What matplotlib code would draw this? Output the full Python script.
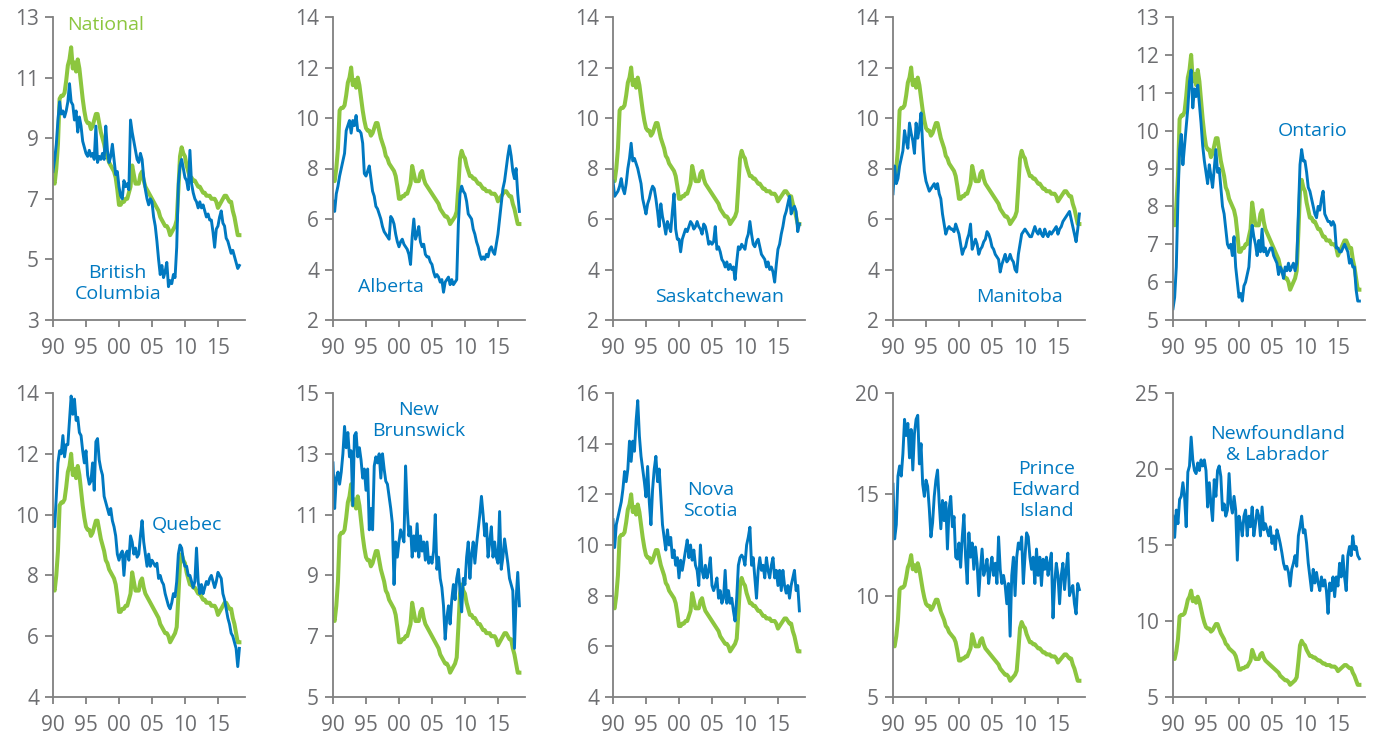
import numpy as np
import pandas as pd
import matplotlib
matplotlib.use('Agg')
import matplotlib.pyplot as plt

# Unemployment rate (%), quarterly readings 1990Q1 - 2018Q2
quarters = pd.period_range('1990Q1', '2018Q2', freq='Q')
years = quarters.year + (quarters.quarter - 1) / 4.0

national = [7.6, 7.5, 8.0, 8.8,
            10.3, 10.4, 10.4, 10.5,
            10.9, 11.4, 11.6, 12.0,
            11.3, 11.5, 11.2, 11.6,
            11.3, 10.8, 10.3, 9.9,
            9.6, 9.5, 9.5, 9.3,
            9.4, 9.6, 9.8, 9.8,
            9.5, 9.2, 9.0, 8.8,
            8.5, 8.4, 8.2, 8.1,
            8.0, 7.9, 7.7, 7.3,
            6.8, 6.8, 6.9, 6.9,
            7.0, 7.0, 7.2, 7.4,
            8.1, 7.8, 7.5, 7.5,
            7.5, 7.8, 7.9, 7.6,
            7.4, 7.3, 7.2, 7.1,
            7.0, 6.9, 6.8, 6.7,
            6.6, 6.4, 6.3, 6.2,
            6.1, 6.1, 6.0, 5.8,
            5.9, 6.0, 6.1, 6.3,
            7.3, 8.4, 8.7, 8.5,
            8.4, 8.1, 7.9, 7.7,
            7.7, 7.6, 7.6, 7.5,
            7.4, 7.4, 7.3, 7.2,
            7.2, 7.1, 7.1, 7.1,
            7.0, 7.0, 7.0, 6.9,
            6.7, 6.8, 6.9, 7.0,
            7.1, 7.1, 7.0, 6.9,
            6.9, 6.6, 6.4, 6.1,
            5.8, 5.8]

british_columbia = [7.9, 8.3, 8.8, 9.6,
                    10.2, 9.8, 9.9, 9.7,
                    9.9, 10.2, 10.8, 10.2,
                    10.1, 9.6, 9.9, 9.2,
                    9.7, 9.4, 8.9, 8.7,
                    8.5, 8.4, 8.6, 8.4,
                    8.5, 8.3, 9.4, 8.2,
                    8.4, 8.3, 8.5, 8.3,
                    9.4, 8.6, 8.2, 8.4,
                    8.8, 8.3, 7.8, 7.9,
                    7.4, 7.1, 7.0, 7.6,
                    7.4, 7.5, 7.3, 9.6,
                    9.2, 8.9, 8.6, 8.3,
                    8.2, 8.5, 8.3, 7.7,
                    7.3, 7.0, 6.8, 7.0,
                    6.9, 6.4, 6.1, 5.6,
                    5.0, 4.5, 4.8, 4.4,
                    4.6, 4.9, 4.1, 4.3,
                    4.2, 4.5, 4.4, 5.4,
                    7.5, 8.1, 8.3, 8.0,
                    7.7, 7.6, 7.3, 8.6,
                    7.5, 7.2, 7.0, 6.9,
                    6.7, 6.9, 6.7, 6.8,
                    6.6, 6.4, 6.5, 6.3,
                    6.3, 5.9, 5.4, 6.0,
                    6.1, 6.4, 6.6, 6.2,
                    6.1, 5.7, 5.6, 5.4,
                    5.2, 5.3, 5.1, 4.9,
                    4.7, 4.8]

alberta = [6.7, 6.3, 7.0, 7.3,
           7.7, 8.0, 8.3, 8.6,
           9.5, 9.7, 9.9, 9.4,
           9.9, 9.7, 10.1, 9.5,
           9.5, 9.4, 9.0, 7.8,
           7.7, 7.9, 8.1, 7.6,
           7.1, 6.9, 6.5, 6.4,
           6.2, 6.0, 5.7, 5.5,
           5.4, 5.3, 5.2, 6.1,
           6.0, 5.8, 5.4, 5.1,
           4.9, 5.1, 5.2, 5.0,
           4.9, 4.8, 4.6, 4.2,
           5.3, 6.0, 5.2, 5.4,
           5.7, 5.1, 4.9, 5.0,
           4.6, 4.5, 4.5, 4.3,
           4.2, 3.9, 3.7, 3.8,
           3.7, 3.5, 3.6, 3.1,
           3.5, 3.6, 3.7, 3.4,
           3.6, 3.4, 3.5, 3.6,
           5.8, 7.0, 7.3, 7.1,
           7.0, 6.7, 6.2, 6.1,
           6.0, 5.6, 5.4, 5.1,
           4.9, 4.6, 4.4, 4.5,
           4.4, 4.6, 4.5, 4.8,
           4.9, 4.7, 4.6, 5.0,
           5.4, 6.0, 6.6, 7.2,
           7.5, 8.0, 8.5, 8.9,
           8.5, 7.9, 7.6, 8.0,
           7.0, 6.3]

saskatchewan = [7.5, 6.9, 7.0, 7.1,
                7.3, 7.6, 7.2, 7.0,
                7.4, 8.0, 8.4, 9.0,
                8.3, 8.4, 8.2, 8.0,
                7.7, 7.4, 6.8, 6.5,
                6.2, 6.6, 6.8, 7.1,
                7.3, 7.2, 6.8, 6.3,
                5.7, 6.6, 6.1, 5.8,
                5.4, 5.9, 5.7, 5.5,
                6.3, 7.0, 5.6, 5.2,
                5.2, 4.7, 5.2, 5.4,
                5.6, 5.5, 5.7, 5.9,
                5.8, 5.6, 5.7, 5.9,
                5.7, 5.6, 5.4, 5.8,
                5.7, 5.4, 5.0, 5.1,
                5.0, 5.1, 5.7, 4.8,
                4.9, 4.7, 4.4, 4.3,
                4.1, 4.3, 4.0, 4.2,
                4.0, 4.1, 3.6, 4.3,
                4.9, 4.8, 5.0, 4.9,
                4.8, 5.2, 5.4, 5.9,
                5.4, 5.0, 4.9, 5.1,
                5.2, 4.9, 4.6, 4.5,
                4.4, 4.1, 4.3, 4.0,
                4.1, 3.9, 3.5, 4.2,
                4.8, 5.0, 5.4, 5.7,
                6.1, 6.3, 6.6, 6.9,
                6.2, 6.4, 6.5, 6.3,
                5.5, 5.8]

manitoba = [7.0, 8.1, 7.4, 7.6,
            8.1, 8.4, 8.7, 9.5,
            9.1, 8.8, 9.8, 9.4,
            9.1, 8.6, 9.8, 9.2,
            9.6, 10.2, 8.9, 7.9,
            7.5, 7.3, 7.1, 7.2,
            7.3, 7.4, 7.2, 7.4,
            7.0, 6.8, 6.2, 5.8,
            5.4, 5.6, 5.7, 5.6,
            5.6, 5.5, 5.8, 5.6,
            5.4, 5.0, 4.6, 4.8,
            4.9, 5.2, 5.4, 5.8,
            4.8, 5.0, 5.2, 5.0,
            4.6, 4.8, 4.9, 5.1,
            5.2, 5.5, 5.4, 5.2,
            4.9, 4.8, 4.6, 4.5,
            4.4, 3.9, 4.2, 4.4,
            4.6, 4.3, 4.4, 4.6,
            4.4, 4.3, 4.0, 3.9,
            4.6, 5.0, 5.4, 5.5,
            5.6, 5.5, 5.4, 5.3,
            5.3, 5.5, 5.7, 5.5,
            5.4, 5.6, 5.4, 5.3,
            5.6, 5.4, 5.3, 5.5,
            5.4, 5.5, 5.6, 5.7,
            5.4, 5.6, 5.7, 5.9,
            6.0, 6.1, 6.2, 6.3,
            6.0, 5.7, 5.4, 5.1,
            5.6, 6.2]

ontario = [5.3, 5.6, 6.4, 8.2,
           9.5, 9.9, 9.1, 9.6,
           10.1, 10.6, 11.3, 11.6,
           10.6, 11.1, 10.9, 11.2,
           10.7, 10.2, 9.6, 9.2,
           8.9, 8.6, 9.1, 8.8,
           8.5, 9.0, 9.5, 8.9,
           9.0, 8.5, 8.0, 7.8,
           7.4, 7.0, 6.9, 7.0,
           6.7, 7.2, 6.4, 6.0,
           5.6, 5.7, 5.5, 5.9,
           6.0, 6.2, 6.4, 7.1,
           7.5, 7.2, 7.0, 6.7,
           7.1, 6.8, 7.4, 6.8,
           6.9, 6.7, 6.8, 6.9,
           6.9, 6.7, 6.6, 6.5,
           6.2, 6.4, 6.3, 6.1,
           6.4, 6.3, 6.5, 6.3,
           6.4, 6.5, 6.3, 6.5,
           7.8, 9.1, 9.5, 9.2,
           9.2, 8.9, 8.5, 8.4,
           8.2, 8.0, 7.8, 7.7,
           8.0, 7.9, 8.2, 8.4,
           7.8, 7.7, 7.6, 7.6,
           7.5, 7.6, 7.5, 6.9,
           6.9, 6.8, 6.8, 6.9,
           7.0, 6.9, 6.8, 6.5,
           6.6, 6.4, 6.4, 5.8,
           5.5, 5.5]

quebec = [10.0, 9.6, 10.6, 11.7,
          12.1, 12.0, 12.6, 11.9,
          12.3, 12.3, 13.1, 13.9,
          13.3, 13.8, 13.1, 13.2,
          12.7, 12.6, 12.1, 11.7,
          12.1, 11.3, 11.0, 11.1,
          11.7, 10.8, 12.4, 12.5,
          11.8, 11.5, 11.3, 10.6,
          10.4, 10.2, 10.0, 10.2,
          9.8, 9.6, 9.3, 8.7,
          8.5, 8.7, 8.8, 8.0,
          8.7, 8.8, 8.5, 9.3,
          9.1, 8.7, 8.9, 8.6,
          8.7, 9.3, 9.8, 9.1,
          8.7, 8.3, 8.7, 8.3,
          8.5, 8.4, 8.3, 8.4,
          7.9, 8.0, 7.8, 7.7,
          7.4, 7.2, 7.0, 6.9,
          7.1, 7.4, 7.3, 7.8,
          8.7, 9.0, 8.9, 8.5,
          8.3, 8.3, 8.0, 8.0,
          7.8, 7.6, 7.8, 8.9,
          7.8, 7.4, 7.7, 7.4,
          7.6, 7.8, 7.7, 7.9,
          8.0, 7.8, 7.6, 7.8,
          8.1, 8.0, 7.9, 7.4,
          7.2, 6.9, 6.6, 6.4,
          6.1, 6.0, 5.8, 5.6,
          5.0, 5.6]

new_brunswick = [12.7, 11.2, 12.2, 12.4,
                 12.0, 12.4, 13.0, 13.9,
                 13.2, 13.7, 12.9, 13.1,
                 11.3, 13.6, 13.7, 12.9,
                 13.2, 12.8, 12.2, 12.5,
                 11.8, 12.5, 10.5, 11.2,
                 10.5, 12.6, 12.9, 12.7,
                 13.0, 12.2, 13.0, 12.5,
                 12.1, 12.0, 11.6, 11.2,
                 10.7, 8.7, 10.1, 9.6,
                 10.1, 10.5, 10.3, 10.1,
                 12.6, 11.2, 10.3, 10.6,
                 9.6, 10.3, 9.8, 10.7,
                 9.6, 10.3, 9.8, 10.1,
                 9.5, 10.1, 9.4, 9.6,
                 9.4, 9.8, 11.0, 9.2,
                 9.6, 8.9, 8.6, 8.0,
                 6.9, 7.6, 8.0, 7.4,
                 8.2, 8.7, 8.2, 8.9,
                 9.2, 8.5, 7.8, 8.9,
                 8.7, 9.6, 10.1, 8.9,
                 9.7, 10.1, 9.4, 10.0,
                 10.5, 11.0, 11.6, 11.0,
                 10.3, 10.7, 9.6, 10.1,
                 10.6, 9.6, 10.1, 9.6,
                 9.4, 11.1, 9.2, 9.6,
                 10.2, 9.8, 9.4, 8.9,
                 8.7, 8.5, 6.6, 8.2,
                 9.1, 8.0]

nova_scotia = [11.0, 9.9, 10.8, 11.1,
               11.4, 11.7, 12.2, 12.9,
               12.5, 13.0, 14.1, 13.3,
               14.1, 13.7, 14.9, 15.7,
               14.3, 13.5, 13.0, 12.5,
               11.9, 13.1, 11.7, 10.8,
               12.2, 13.0, 13.5, 12.5,
               13.0, 11.9, 10.8, 10.3,
               9.8, 10.6, 10.0, 10.3,
               9.5, 9.8, 9.2, 9.5,
               8.7, 9.4, 9.0, 9.4,
               9.8, 10.2, 9.5, 10.0,
               9.4, 9.8, 9.2, 9.0,
               8.4, 10.0, 9.0, 8.7,
               9.2, 8.7, 9.0, 9.5,
               8.4, 8.2, 8.4, 8.7,
               7.9, 8.2, 7.7, 7.9,
               9.0, 7.7, 8.2, 7.7,
               7.9, 7.4, 7.0, 7.9,
               9.2, 9.5, 9.6, 9.5,
               9.2, 10.0, 10.3, 10.7,
               9.2, 9.5, 8.7, 7.9,
               9.0, 9.5, 9.0, 9.2,
               8.7, 9.5, 9.0, 8.7,
               9.2, 9.5, 8.7, 9.0,
               8.4, 9.0, 8.2, 9.0,
               8.4, 8.1, 8.4, 7.9,
               8.4, 8.7, 9.0, 8.2,
               8.4, 7.4]

prince_edward_island = [15.5, 12.8, 13.5, 15.9,
                        16.4, 15.9, 17.0, 18.7,
                        17.9, 18.5, 16.8, 18.2,
                        16.2, 18.0, 18.7, 18.9,
                        16.5, 17.5, 15.5, 14.9,
                        15.7, 15.4, 14.3, 12.9,
                        13.6, 14.9, 15.7, 16.2,
                        14.6, 13.3, 14.7, 13.7,
                        14.6, 12.3, 14.3, 14.9,
                        13.4, 13.9, 11.9, 11.8,
                        12.6, 11.4, 12.9, 14.0,
                        11.9, 10.6, 13.1, 11.9,
                        12.6, 11.3, 12.4, 11.6,
                        10.0, 11.3, 12.3, 11.0,
                        11.3, 11.8, 10.6, 11.3,
                        11.9, 11.0, 11.6, 10.6,
                        12.9, 11.3, 10.6, 11.0,
                        10.5, 9.6, 10.6, 8.0,
                        11.0, 11.9, 10.0, 11.9,
                        12.6, 12.3, 12.9, 10.6,
                        11.9, 13.1, 12.9, 11.9,
                        11.3, 11.9, 10.6, 12.3,
                        11.0, 11.9, 10.5, 11.8,
                        11.3, 11.9, 11.0, 11.6,
                        12.1, 8.9, 10.6, 11.6,
                        11.0, 9.6, 11.0, 11.6,
                        10.3, 11.3, 12.1, 10.0,
                        10.3, 10.5, 9.6, 9.1,
                        10.6, 10.3]

newfoundland = [16.9, 15.5, 17.3, 16.4,
                18.0, 18.2, 19.1, 18.2,
                16.2, 19.8, 20.2, 22.1,
                20.6, 19.9, 19.7, 20.4,
                19.9, 20.6, 20.2, 20.6,
                19.9, 17.5, 19.1, 17.7,
                16.6, 19.3, 18.2, 19.9,
                20.2, 19.5, 17.3, 17.7,
                16.9, 17.3, 19.7, 17.7,
                17.1, 18.2, 17.3, 14.0,
                16.9, 16.4, 15.6, 16.9,
                17.3, 15.6, 16.9, 16.2,
                17.5, 15.6, 16.4, 17.3,
                16.9, 15.6, 17.5, 16.0,
                16.4, 16.0, 15.6, 16.2,
                15.1, 15.6, 14.7, 16.0,
                15.6, 15.1, 14.5, 13.8,
                13.4, 13.6, 13.2, 12.3,
                13.4, 13.8, 14.3, 13.6,
                15.6, 16.2, 16.9, 15.8,
                16.0, 15.1, 13.8, 12.9,
                12.0, 13.4, 12.5, 13.2,
                12.5, 12.0, 12.9, 12.3,
                12.7, 12.0, 10.5, 12.5,
                12.0, 12.9, 11.6, 12.9,
                12.3, 13.8, 12.9, 14.3,
                12.9, 12.0, 14.3, 14.9,
                14.3, 15.6, 14.7, 14.9,
                14.3, 14.1]

# panel settings: series, label, y range, y step, label position (year, rate)
panels = [
    (british_columbia, 'British\nColumbia', 3, 13, 2, 1999.8, 4.2),
    (alberta, 'Alberta', 2, 14, 2, 1998.8, 3.3),
    (saskatchewan, 'Saskatchewan', 2, 14, 2, 2006.2, 2.9),
    (manitoba, 'Manitoba', 2, 14, 2, 2009.1, 2.9),
    (ontario, 'Ontario', 5, 13, 1, 2011.1, 10.0),
    (quebec, 'Quebec', 4, 14, 2, 2010.3, 9.66),
    (new_brunswick, 'New\nBrunswick', 5, 15, 2, 2003.0, 14.1),
    (nova_scotia, 'Nova\nScotia', 4, 16, 2, 2004.8, 11.75),
    (prince_edward_island, 'Prince\nEdward\nIsland', 5, 20, 5, 2013.2, 15.2),
    (newfoundland, 'Newfoundland\n& Labrador', 5, 25, 5, 2005.8, 21.6),
]

green = '#8cc63f'
blue = '#0079c1'
grey = '#808080'
text_grey = '#6d6e71'

plt.rcParams['font.family'] = ['Open Sans', 'DejaVu Sans']

W, H = 1377, 738
fig = plt.figure(figsize=(W / 100, H / 100), dpi=100)

lefts = [53, 333, 613, 893, 1173]
rows = [(17, 320), (393, 697)]
ax_w = 192

for i, (series, label, ymin, ymax, ystep, lx, ly) in enumerate(panels):
    top, bottom = rows[i // 5]
    left = lefts[i % 5]
    ax = fig.add_axes([left / W, 1 - bottom / H, ax_w / W, (bottom - top) / H])

    ax.plot(years, national, color=green, lw=2.9, solid_joinstyle='round')
    ax.plot(years, series, color=blue, lw=2.1, solid_joinstyle='round')

    ax.set_xlim(1990, 2019.1)
    ax.set_ylim(ymin, ymax)
    ax.set_xticks([1990, 1995, 2000, 2005, 2010, 2015])
    ax.set_xticklabels(['90', '95', '00', '05', '10', '15'])
    ax.set_yticks(np.arange(ymin, ymax + 0.01, ystep))

    for s in ['top', 'right']:
        ax.spines[s].set_visible(False)
    for s in ['left', 'bottom']:
        ax.spines[s].set_color(grey)
        ax.spines[s].set_linewidth(1.3)

    ax.tick_params(axis='both', colors=grey, labelcolor=text_grey, labelsize=15, width=1.3)
    ax.tick_params(axis='y', length=6, pad=4)
    ax.tick_params(axis='x', length=5, pad=8)

    ax.text(lx, ly, label, color=blue, fontsize=14, ha='center', va='center', linespacing=1.2)

    if i == 0:
        ax.text(1997.9, 12.74, 'National', color=green, fontsize=14, ha='center', va='center')

fig.savefig('out.png', dpi=100)
